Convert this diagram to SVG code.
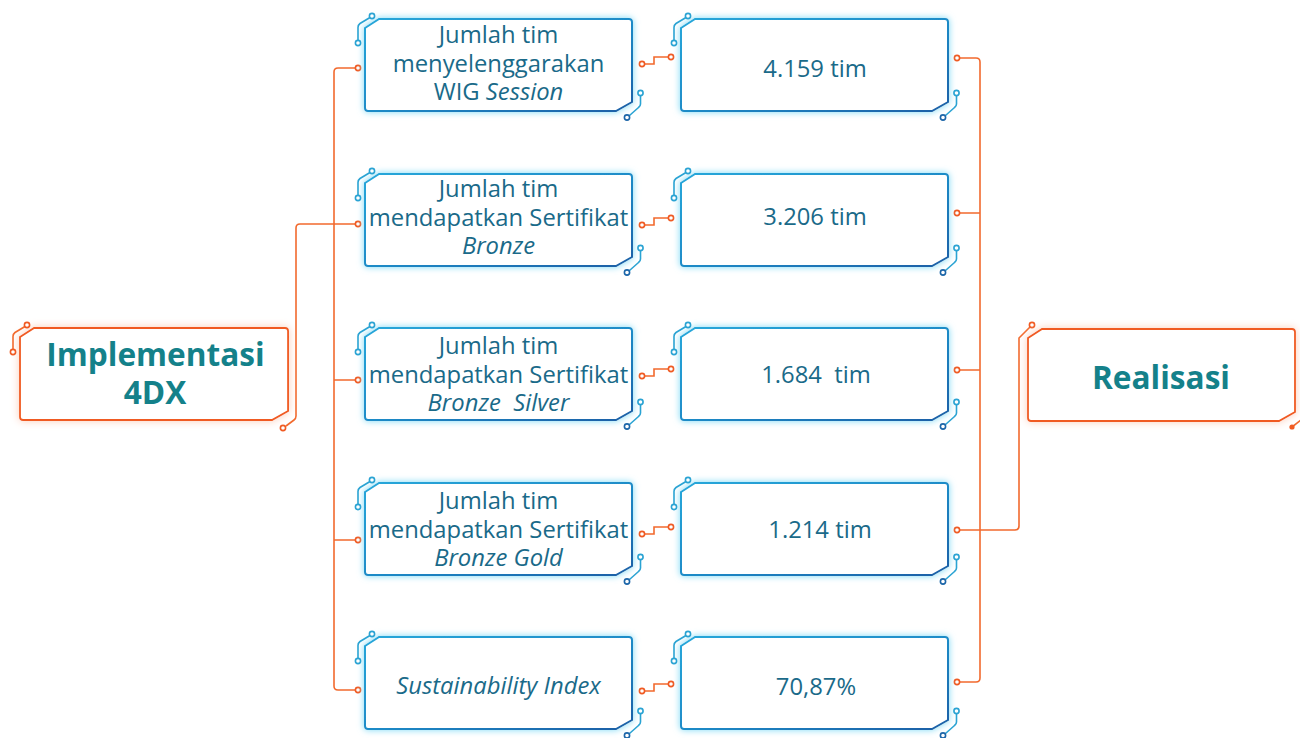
<svg xmlns="http://www.w3.org/2000/svg" xmlns:xlink="http://www.w3.org/1999/xlink" width="1300" height="738" viewBox="0 0 1300 738">
<defs>
<linearGradient id="gb" x1="0" y1="0" x2="1" y2="1">
<stop offset="0" stop-color="#27a7da"/>
<stop offset="0.5" stop-color="#1f8cc8"/>
<stop offset="1" stop-color="#1a5fa6"/>
</linearGradient>
<filter id="glowB" x="-10%" y="-20%" width="120%" height="140%">
<feGaussianBlur in="SourceAlpha" stdDeviation="3.5"/>
<feComponentTransfer><feFuncA type="linear" slope="1.1"/></feComponentTransfer>
<feComposite in2="SourceAlpha" operator="out" result="b"/>
<feFlood flood-color="#86dcf6"/>
<feComposite in2="b" operator="in" result="g"/>
<feMerge><feMergeNode in="g"/><feMergeNode in="SourceGraphic"/></feMerge>
</filter>
<filter id="glowO" x="-10%" y="-20%" width="120%" height="140%">
<feGaussianBlur in="SourceAlpha" stdDeviation="4"/>
<feComponentTransfer><feFuncA type="linear" slope="0.8"/></feComponentTransfer>
<feComposite in2="SourceAlpha" operator="out" result="b"/>
<feFlood flood-color="#fbc0a6"/>
<feComposite in2="b" operator="in" result="g"/>
<feMerge><feMergeNode in="g"/><feMergeNode in="SourceGraphic"/></feMerge>
</filter>
<path id="frame" d="M0,9 L14,0 H264 Q267,0 267,3 V83 L251,92 H3 Q0,92 0,89 Z"/>
<g id="decoB">
<path class="deco" d="M5,-1.5 L-5,4.5 Q-7,6 -7,8.5 V21"/>
<circle class="dotB" cx="7" cy="-3" r="2.6"/>
<circle class="dotB" cx="-7" cy="24" r="2.6"/>
<path class="deco" d="M275.5,76.5 V85 Q275.5,87 273.5,88.5 L264.5,96.5"/>
<circle class="dotB" cx="275.5" cy="74" r="2.6"/>
<circle class="dotB2" cx="262" cy="98.5" r="2.6"/>
</g>
<style>
.fb { fill: #ffffff; stroke: url(#gb); stroke-width: 2; filter: url(#glowB); }
.fo { fill: #ffffff; stroke: #f05a22; stroke-width: 1.8; filter: url(#glowO); }
.deco { fill: none; stroke: #2aa3d3; stroke-width: 1.6; }
.dotB { fill: #ffffff; stroke: #2aa3d3; stroke-width: 1.6; }
.dotB2 { fill: #ffffff; stroke: #1c66a9; stroke-width: 1.6; }
.wire { fill: none; stroke: #f26a2e; stroke-width: 1.6; }
.dotO { fill: #ffffff; stroke: #f05a22; stroke-width: 1.6; }
.t { font-family: "Open Sans", "Noto Sans", "DejaVu Sans", sans-serif; font-size: 23.8px; fill: #1a6a89; text-anchor: middle; white-space: pre; }
.tb { font-family: "Open Sans", "Noto Sans", "DejaVu Sans", sans-serif; font-size: 31.6px; font-weight: 700; fill: #14818a; text-anchor: middle; }
.i { font-style: italic; }
</style>
</defs>
<rect width="1300" height="738" fill="#ffffff"/>

<g id="connectors">
<path class="wire" d="M286,426 L294,420 Q296,418.5 296,416 V228 Q296,224 300,224 H355.5"/>
<circle class="dotO" cx="283" cy="428" r="2.6"/>
<path class="wire" d="M355.5,68 H338 Q334,68 334,72 V686 Q334,690 338,690 H355.5 M334,380 H355.5 M334,540 H355.5"/>
<circle class="dotO" cx="358" cy="68" r="2.6"/>
<circle class="dotO" cx="358" cy="224" r="2.6"/>
<circle class="dotO" cx="358" cy="380" r="2.6"/>
<circle class="dotO" cx="358" cy="540" r="2.6"/>
<circle class="dotO" cx="358" cy="690" r="2.6"/>
<path class="wire" d="M644.5,64 H654 V57 H668.5 M644.5,225 H654 V218 H668.5 M644.5,376 H654 V369 H668.5 M644.5,534 H654 V527 H668.5 M644.5,691 H654 V684 H668.5"/>
<circle class="dotO" cx="642" cy="64" r="2.6"/>
<circle class="dotO" cx="671" cy="57" r="2.6"/>
<circle class="dotO" cx="642" cy="225" r="2.6"/>
<circle class="dotO" cx="671" cy="218" r="2.6"/>
<circle class="dotO" cx="642" cy="376" r="2.6"/>
<circle class="dotO" cx="671" cy="369" r="2.6"/>
<circle class="dotO" cx="642" cy="534" r="2.6"/>
<circle class="dotO" cx="671" cy="527" r="2.6"/>
<circle class="dotO" cx="642" cy="691" r="2.6"/>
<circle class="dotO" cx="671" cy="684" r="2.6"/>
<path class="wire" d="M959.5,58 H976 Q980,58 980,62 V678 Q980,682 976,682 H959.5 M980,213 H959.5 M980,370 H959.5"/>
<path class="wire" d="M959.5,530 H1015 Q1019,530 1019,526 V338 L1030,327"/>
<circle class="dotO" cx="957" cy="58" r="2.6"/>
<circle class="dotO" cx="957" cy="213" r="2.6"/>
<circle class="dotO" cx="957" cy="370" r="2.6"/>
<circle class="dotO" cx="957" cy="530" r="2.6"/>
<circle class="dotO" cx="957" cy="682" r="2.6"/>
<circle class="dotO" cx="1032" cy="325" r="2.6"/>
<path class="wire" d="M1292,427 L1301,420"/>
<circle cx="1292" cy="427" r="2.6" fill="#f05a22"/>
</g>

<g id="implementasi">
<use xlink:href="#frame" href="#frame" class="fo" transform="translate(20,328) scale(1.004,1)"/>
<path class="wire" d="M25,326.5 L15,332.5 Q13,334 13,336.5 V349"/>
<circle class="dotO" cx="27" cy="325" r="2.6"/>
<circle class="dotO" cx="13" cy="352" r="2.6"/>
<text class="tb" x="155.5" y="366">Implementasi</text>
<text class="tb" x="155" y="404">4DX</text>
</g>

<g id="realisasi">
<use xlink:href="#frame" href="#frame" x="1028" y="329" class="fo"/>
<text class="tb" x="1161" y="389">Realisasi</text>
</g>

<g id="m1" transform="translate(365,19)">
<use xlink:href="#frame" href="#frame" class="fb"/>
<use xlink:href="#decoB" href="#decoB"/>
<text class="t" x="133.5" y="24">Jumlah tim</text>
<text class="t" x="133.5" y="53">menyelenggarakan</text>
<text class="t" x="133.5" y="81">WIG <tspan class="i">Session</tspan></text>
</g>
<g id="m2" transform="translate(365,174)">
<use xlink:href="#frame" href="#frame" class="fb"/>
<use xlink:href="#decoB" href="#decoB"/>
<text class="t" x="133.5" y="23">Jumlah tim</text>
<text class="t" x="133.5" y="52">mendapatkan Sertifikat</text>
<text class="t i" x="133.5" y="80">Bronze</text>
</g>
<g id="m3" transform="translate(365,328)">
<use xlink:href="#frame" href="#frame" class="fb"/>
<use xlink:href="#decoB" href="#decoB"/>
<text class="t" x="133.5" y="26">Jumlah tim</text>
<text class="t" x="133.5" y="55">mendapatkan Sertifikat</text>
<text class="t i" x="133.5" y="83">Bronze  Silver</text>
</g>
<g id="m4" transform="translate(365,483)">
<use xlink:href="#frame" href="#frame" class="fb"/>
<use xlink:href="#decoB" href="#decoB"/>
<text class="t" x="133.5" y="26">Jumlah tim</text>
<text class="t" x="133.5" y="55">mendapatkan Sertifikat</text>
<text class="t i" x="133.5" y="83">Bronze Gold</text>
</g>
<g id="m5" transform="translate(365,637)">
<use xlink:href="#frame" href="#frame" class="fb"/>
<use xlink:href="#decoB" href="#decoB"/>
<text class="t i" x="133.5" y="57">Sustainability Index</text>
</g>

<g id="r1" transform="translate(681,19)">
<use xlink:href="#frame" href="#frame" class="fb"/>
<use xlink:href="#decoB" href="#decoB"/>
<text class="t" x="134" y="58">4.159 tim</text>
</g>
<g id="r2" transform="translate(681,174)">
<use xlink:href="#frame" href="#frame" class="fb"/>
<use xlink:href="#decoB" href="#decoB"/>
<text class="t" x="134" y="51">3.206 tim</text>
</g>
<g id="r3" transform="translate(681,328)">
<use xlink:href="#frame" href="#frame" class="fb"/>
<use xlink:href="#decoB" href="#decoB"/>
<text class="t" x="135" y="55">1.684  tim</text>
</g>
<g id="r4" transform="translate(681,483)">
<use xlink:href="#frame" href="#frame" class="fb"/>
<use xlink:href="#decoB" href="#decoB"/>
<text class="t" x="139" y="55">1.214 tim</text>
</g>
<g id="r5" transform="translate(681,637)">
<use xlink:href="#frame" href="#frame" class="fb"/>
<use xlink:href="#decoB" href="#decoB"/>
<text class="t" x="135" y="58">70,87%</text>
</g>
</svg>
